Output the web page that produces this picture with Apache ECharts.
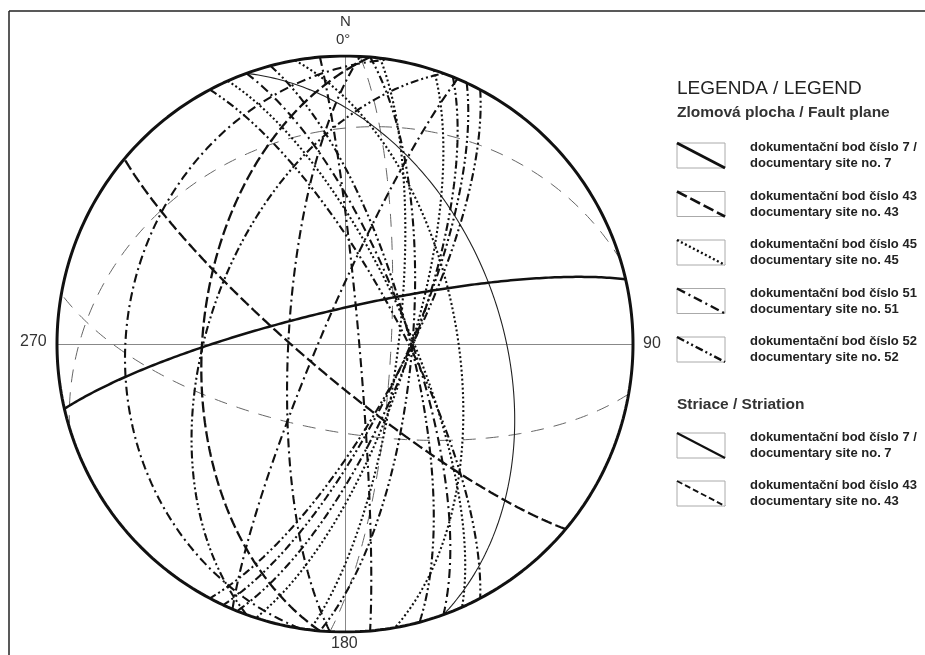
<!DOCTYPE html>
<html>
<head>
<meta charset="utf-8">
<script src="https://cdn.jsdelivr.net/npm/echarts@6/dist/echarts.min.js"></script>
<style>
  html, body { margin: 0; padding: 0; background: #fff; }
  #chart { width: 925px; height: 655px; }
</style>
</head>
<body>
<div id="chart"></div>
<script>
const faultSite7 = [[347, 80]]
const faultSite43 = [[220, 80], [275, 49]]
const faultSite45 = [[108, 72], [66, 72], [80, 58], [97, 75]]
const faultSite51 = [[279, 25], [85, 86], [293, 83], [70, 72], [273, 74]]
const faultSite52 = [[290, 51], [112, 72], [115, 73], [95, 71], [75, 72], [62, 74], [118, 73]]
const striaSite7 = [[70, 45]]
const striaSite43 = [[190, 65], [343, 27], [93, 77]]

const dirLabels = ['0°', '90', '180', '270']

const legendFault = [
  ['dokumentační bod číslo 7 /', 'documentary site no. 7'],
  ['dokumentační bod číslo 43', 'documentary site no. 43'],
  ['dokumentační bod číslo 45', 'documentary site no. 45'],
  ['dokumentační bod číslo 51', 'documentary site no. 51'],
  ['dokumentační bod číslo 52', 'documentary site no. 52'],
]
const legendStria = [
  ['dokumentační bod číslo 7 /', 'documentary site no. 7'],
  ['dokumentační bod číslo 43', 'documentary site no. 43'],
]

const rad = Math.PI / 180
const FONT = '"Liberation Sans", Arial, sans-serif'

// equal-area (Schmidt) lower hemisphere projection of a line
function project(trend, plunge) {
  const r = Math.SQRT2 * Math.sin(((90 - plunge) * rad) / 2)
  return [r * Math.sin(trend * rad), r * Math.cos(trend * rad)]
}

// sweep the plane from one strike end to the other
function greatCircle(dd, dip) {
  const pts = []
  const s = (dd - 90) * rad
  const d = dd * rad
  const dp = dip * rad
  for (let t = 0; t <= 180; t += 1) {
    const a = t * rad
    const vx = Math.cos(a) * Math.sin(s) + Math.sin(a) * Math.cos(dp) * Math.sin(d)
    const vy = Math.cos(a) * Math.cos(s) + Math.sin(a) * Math.cos(dp) * Math.cos(d)
    const vz = Math.sin(a) * Math.sin(dp)
    pts.push(project(Math.atan2(vx, vy) / rad, Math.asin(Math.min(1, vz)) / rad))
  }
  return pts
}

function primitive() {
  const pts = []
  for (let t = 0; t <= 360; t += 1) pts.push(project(t, 0))
  return pts
}

// line looks for each set
const styles = {
  site7: { color: '#111', width: 2.5, type: 'solid' },
  site43: { color: '#111', width: 2.3, type: [11, 4] },
  site45: { color: '#111', width: 2.1, type: [2, 2.5] },
  site51: { color: '#111', width: 2.1, type: [9, 4, 2, 4] },
  site52: { color: '#111', width: 2.1, type: [8, 3, 2, 3, 2, 3] },
  stria7: { color: '#222', width: 1.1, type: 'solid' },
  stria43: { color: '#666', width: 1, type: [13, 10] },
}

const series = []
function addSet(planes, st) {
  planes.forEach(function (p) {
    series.push({
      type: 'line',
      data: greatCircle(p[0], p[1]),
      showSymbol: false,
      silent: true,
      lineStyle: st,
      z: 3,
    })
  })
}
addSet(striaSite43, styles.stria43)
addSet(striaSite7, styles.stria7)
addSet(faultSite45, styles.site45)
addSet(faultSite52, styles.site52)
addSet(faultSite51, styles.site51)
addSet(faultSite43, styles.site43)
addSet(faultSite7, styles.site7)
series.push({
  type: 'line',
  data: primitive(),
  showSymbol: false,
  silent: true,
  lineStyle: { color: '#111', width: 3 },
  z: 5,
})

// legend boxes drawn with graphics
const graphic = []
function legendItem(y, st, lines) {
  graphic.push({
    type: 'rect',
    shape: { x: 677, y: y, width: 48, height: 25 },
    style: { fill: '#fff', stroke: '#aaa', lineWidth: 1 },
  })
  graphic.push({
    type: 'line',
    shape: { x1: 677, y1: y, x2: 725, y2: y + 25 },
    style: {
      stroke: st.color,
      lineWidth: st.width + 0.3,
      lineDash: st.type === 'solid' ? null : st.type,
    },
  })
  lines.forEach(function (t, i) {
    graphic.push({
      type: 'text',
      left: 750,
      top: y - 2 + i * 16,
      style: { text: t, font: 'bold 13px ' + FONT, fill: '#222' },
    })
  })
}
const faultStyles = [styles.site7, styles.site43, styles.site45, styles.site51, styles.site52]
legendFault.forEach(function (l, i) {
  legendItem(143 + i * 48.5, faultStyles[i], l)
})
const striaStyles = [{ color: '#111', width: 1.8, type: 'solid' }, { color: '#111', width: 1.6, type: [6, 3] }]
legendStria.forEach(function (l, i) {
  legendItem(433 + i * 48, striaStyles[i], l)
})

graphic.push(
  { type: 'text', left: 677, top: 79, style: { text: 'LEGENDA / LEGEND', font: '19px ' + FONT, fill: '#222' } },
  { type: 'text', left: 677, top: 105, style: { text: 'Zlomová plocha / Fault plane', font: 'bold 15.5px ' + FONT, fill: '#333' } },
  { type: 'text', left: 677, top: 397, style: { text: 'Striace / Striation', font: 'bold 15.5px ' + FONT, fill: '#333' } },
  { type: 'text', left: 340, top: 14, style: { text: 'N', font: '15px ' + FONT, fill: '#333' } },
  { type: 'text', left: 336, top: 32, style: { text: dirLabels[0], font: '15px ' + FONT, fill: '#333' } },
  { type: 'text', left: 643, top: 336, style: { text: dirLabels[1], font: '16px ' + FONT, fill: '#333' } },
  { type: 'text', left: 331, top: 636, style: { text: dirLabels[2], font: '16px ' + FONT, fill: '#333' } },
  { type: 'text', left: 20, top: 334, style: { text: dirLabels[3], font: '16px ' + FONT, fill: '#333' } },
  // frame of the original figure
  { type: 'line', shape: { x1: 9, y1: 11, x2: 925, y2: 11 }, style: { stroke: '#222', lineWidth: 1.5 } },
  { type: 'line', shape: { x1: 9, y1: 11, x2: 9, y2: 655 }, style: { stroke: '#222', lineWidth: 1.5 } }
)

const chart = echarts.init(document.getElementById('chart'))
chart.setOption({
  animation: false,
  backgroundColor: '#fff',
  grid: { left: 57, top: 56, width: 576, height: 576 },
  xAxis: {
    type: 'value', min: -1, max: 1,
    axisLine: { onZero: true, lineStyle: { color: '#888', width: 1 } },
    axisTick: { show: false }, axisLabel: { show: false }, splitLine: { show: false },
  },
  yAxis: {
    type: 'value', min: -1, max: 1,
    axisLine: { onZero: true, lineStyle: { color: '#888', width: 1 } },
    axisTick: { show: false }, axisLabel: { show: false }, splitLine: { show: false },
  },
  series: series,
  graphic: graphic,
})
</script>
</body>
</html>
